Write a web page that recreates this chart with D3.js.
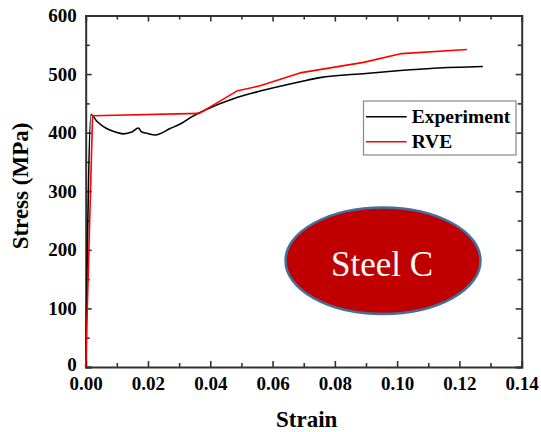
<!DOCTYPE html>
<html><head><meta charset="utf-8">
<script src="https://cdn.jsdelivr.net/npm/d3@7"></script>
<style>
html,body{margin:0;padding:0;background:#fff;}
svg{display:block;}
</style></head>
<body>
<svg id="chart" width="541" height="432"></svg>
<script>
// Data
const experimentStrain = [0, 0.0017, 0.0035, 0.0067, 0.0095, 0.0121, 0.0148, 0.0169, 0.018, 0.0196, 0.0223, 0.0271, 0.0308, 0.034, 0.0389, 0.0474, 0.056, 0.0689, 0.0752, 0.09, 0.101, 0.1117, 0.1275];
const experimentStress = [0, 431, 420, 407, 401, 398, 401, 408, 401, 399, 396, 407, 416, 427, 440, 458, 471, 487, 494, 501, 506, 510, 513];
const rveStrain = [0, 0.0022, 0.0365, 0.0485, 0.056, 0.0688, 0.0892, 0.1015, 0.1224];
const rveStress = [0, 429, 433, 471, 480, 502, 520, 535, 542];
const xTicks = [0, 0.02, 0.04, 0.06, 0.08, 0.10, 0.12, 0.14];
const xMinorTicks = [0.01, 0.03, 0.05, 0.07, 0.09, 0.11, 0.13];
const yTicks = [0, 100, 200, 300, 400, 500, 600];
const yMinorTicks = [50, 150, 250, 350, 450, 550];
const seriesNames = ["Experiment", "RVE"];
const seriesColors = ["#000000", "#ff0000"];
const xTitle = "Strain";
const yTitle = "Stress (MPa)";
const badgeText = "Steel C";

const svg = d3.select("#chart");
const L = 85.7, R = 521.7, T = 15.5, B = 367;
const x = d3.scaleLinear().domain([0, 0.14]).range([L, R]);
const y = d3.scaleLinear().domain([0, 600]).range([B, T]);
const serif = "'Liberation Serif', 'Times New Roman', 'DejaVu Serif', serif";
const axisColor = "#333";

function styleAxis(g, showText) {
  g.select(".domain").attr("stroke", axisColor).attr("stroke-width", 2);
  g.selectAll(".tick line").attr("stroke", axisColor).attr("stroke-width", 1.6);
  g.selectAll(".tick text").attr("fill", "#000").style("font-family", serif)
    .style("font-weight", "bold").style("font-size", "19px");
  if (!showText) g.selectAll(".tick text").remove();
}

// bottom axis
svg.append("g").attr("transform", `translate(0,${B})`)
  .call(d3.axisBottom(x).tickValues(xTicks).tickFormat(d3.format(".2f")).tickSize(-6).tickPadding(9.5))
  .call(g => styleAxis(g, true));
svg.append("g").attr("transform", `translate(0,${B})`)
  .call(d3.axisBottom(x).tickValues(xMinorTicks).tickSize(-4).tickFormat(""))
  .call(g => { styleAxis(g, false); g.select(".domain").remove(); });
// top axis
svg.append("g").attr("transform", `translate(0,${T})`)
  .call(d3.axisTop(x).tickValues(xTicks).tickSize(-6).tickFormat(""))
  .call(g => styleAxis(g, false));
svg.append("g").attr("transform", `translate(0,${T})`)
  .call(d3.axisTop(x).tickValues(xMinorTicks).tickSize(-4).tickFormat(""))
  .call(g => { styleAxis(g, false); g.select(".domain").remove(); });
// left axis
svg.append("g").attr("transform", `translate(${L},0)`)
  .call(d3.axisLeft(y).tickValues(yTicks).tickFormat(d3.format("d")).tickSize(-6).tickPadding(9))
  .call(g => styleAxis(g, true))
  .call(g => g.selectAll(".tick text").filter(d => d === 0).attr("dy", "0.2em"));
svg.append("g").attr("transform", `translate(${L},0)`)
  .call(d3.axisLeft(y).tickValues(yMinorTicks).tickSize(-4).tickFormat(""))
  .call(g => { styleAxis(g, false); g.select(".domain").remove(); });
// right axis
svg.append("g").attr("transform", `translate(${R},0)`)
  .call(d3.axisRight(y).tickValues(yTicks).tickSize(-6).tickFormat(""))
  .call(g => styleAxis(g, false));
svg.append("g").attr("transform", `translate(${R},0)`)
  .call(d3.axisRight(y).tickValues(yMinorTicks).tickSize(-4).tickFormat(""))
  .call(g => { styleAxis(g, false); g.select(".domain").remove(); });

// axis titles
svg.append("text").attr("x", (L + R) / 2 + 3).attr("y", 427).attr("text-anchor", "middle")
  .style("font-family", serif).style("font-weight", "bold").style("font-size", "23px").text(xTitle);
svg.append("text").attr("transform", "translate(28,186) rotate(-90)").attr("text-anchor", "middle")
  .style("font-family", serif).style("font-weight", "bold").style("font-size", "23px").text(yTitle);

// lines
const line = d3.line().x(d => x(d[0])).y(d => y(d[1])).curve(d3.curveMonotoneX);
const expData = experimentStrain.map((s, i) => [s, experimentStress[i]]);
const rveData = rveStrain.map((s, i) => [s, rveStress[i]]);
svg.append("path").datum(expData).attr("d", line).attr("fill", "none")
  .attr("stroke", seriesColors[0]).attr("stroke-width", 1.6).attr("stroke-linejoin", "round");
svg.append("path").datum(rveData).attr("d", line.curve(d3.curveLinear)).attr("fill", "none")
  .attr("stroke", seriesColors[1]).attr("stroke-width", 1.6).attr("stroke-linejoin", "round");

// legend
const lg = svg.append("g");
lg.append("rect").attr("x", 363.5).attr("y", 101).attr("width", 152.5).attr("height", 54)
  .attr("fill", "#fff").attr("stroke", "#888").attr("stroke-width", 1.2);
seriesNames.forEach((name, i) => {
  const yy = 116.7 + i * 25;
  lg.append("line").attr("x1", 366).attr("x2", 406.7).attr("y1", yy).attr("y2", yy)
    .attr("stroke", seriesColors[i]).attr("stroke-width", 1.6);
  lg.append("text").attr("x", 411.7).attr("y", yy + 6.5)
    .style("font-family", serif).style("font-weight", "bold").style("font-size", "19.5px").text(name);
});

// badge ellipse
svg.append("ellipse").attr("cx", 383).attr("cy", 260.7).attr("rx", 97.5).attr("ry", 53.3)
  .attr("fill", "#c00000").attr("stroke", "#41719c").attr("stroke-width", 2.5);
svg.append("text").attr("x", 382).attr("y", 276).attr("text-anchor", "middle")
  .attr("fill", "#fff").style("font-family", serif).style("font-size", "35px").text(badgeText);
</script>
</body></html>
